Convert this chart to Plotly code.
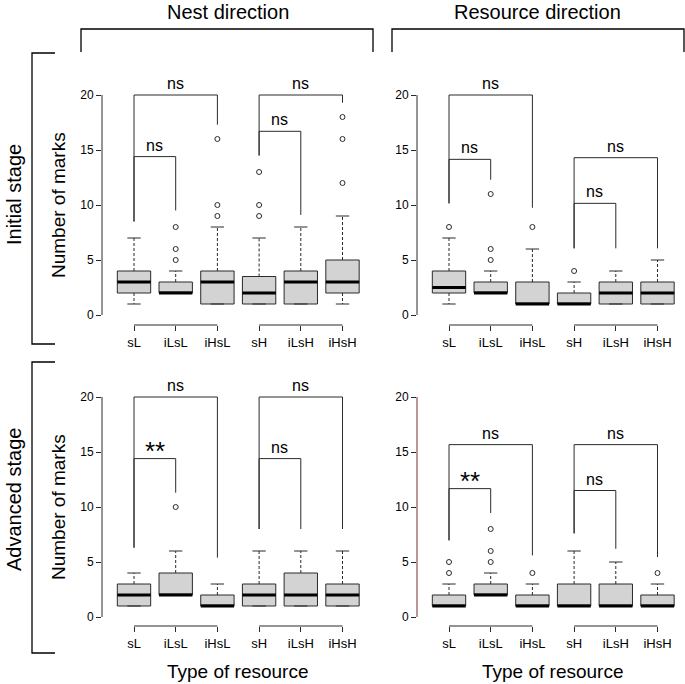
import plotly.graph_objects as go

# ---------------- data ----------------
categories = ["sL", "iLsL", "iHsL", "sH", "iLsH", "iHsH"]
positions = [1, 2, 3, 4, 5, 6]

# Nest direction, initial stage
ni_lower = [1, 2, 1, 1, 1, 1]
ni_q1 = [2, 2, 1, 1, 1, 2]
ni_median = [3, 2, 3, 2, 3, 3]
ni_q3 = [4, 3, 4, 3.5, 4, 5]
ni_upper = [7, 4, 8, 7, 8, 9]
ni_outliers = [[], [5, 6, 8], [9, 10, 16], [9, 10, 13], [], [12, 16, 18]]

# Resource direction, initial stage
ri_lower = [1, 2, 1, 1, 1, 1]
ri_q1 = [2, 2, 1, 1, 1, 1]
ri_median = [2.5, 2, 1, 1, 2, 2]
ri_q3 = [4, 3, 3, 2, 3, 3]
ri_upper = [7, 4, 6, 3, 4, 5]
ri_outliers = [[8], [5, 6, 11], [8], [4], [], []]

# Nest direction, advanced stage
na_lower = [1, 2, 1, 1, 1, 1]
na_q1 = [1, 2, 1, 1, 1, 1]
na_median = [2, 2, 1, 2, 2, 2]
na_q3 = [3, 4, 2, 3, 4, 3]
na_upper = [4, 6, 3, 6, 6, 6]
na_outliers = [[], [10], [], [], [], []]

# Resource direction, advanced stage
ra_lower = [1, 2, 1, 1, 1, 1]
ra_q1 = [1, 2, 1, 1, 1, 1]
ra_median = [1, 2, 1, 1, 1, 1]
ra_q3 = [2, 3, 2, 3, 3, 2]
ra_upper = [3, 4, 3, 6, 5, 3]
ra_outliers = [[4, 5], [5, 6, 8], [4], [], [], [4]]

# significance brackets: (left cat, right cat, top, left leg end, right leg end, label)
ni_brackets = [(1, 3, 20, 8.5, 17.3, "ns"), (1, 2, 14.4, 8.5, 9.5, "ns"),
               (4, 6, 20, 14.5, 19.3, "ns"), (4, 5, 16.7, 14.5, 9.1, "ns")]
ri_brackets = [(1, 3, 20, 10.15, 9.75, "ns"), (1, 2, 14.15, 10.15, 12.3, "ns"),
               (4, 6, 14.3, 6.06, 6.06, "ns"), (4, 5, 10.15, 6.06, 6.06, "ns")]
na_brackets = [(1, 3, 20, 6.3, 5.4, "ns"), (1, 2, 14.4, 6.3, 11.3, "**"),
               (4, 6, 20, 8.0, 8.0, "ns"), (4, 5, 14.4, 8.0, 8.0, "ns")]
ra_brackets = [(1, 3, 15.67, 6.97, 5.6, "ns"), (1, 2, 11.67, 6.97, 9.45, "**"),
               (4, 6, 15.67, 7.6, 5.45, "ns"), (4, 5, 11.5, 7.6, 6.2, "ns")]

y_ticks = [0, 5, 10, 15, 20]

col_titles = ["Nest direction", "Resource direction"]
row_titles = ["Initial stage", "Advanced stage"]
y_title = "Number of marks"
x_title = "Type of resource"

# ---------------- layout helpers ----------------
W, H = 685, 684
FONT = "Liberation Sans, Arial, Helvetica, sans-serif"
LINE = "#2a2a2a"


def px(x):
    return x / W


def py(y):
    return 1 - y / H


panels = [
    dict(ax="", lower=ni_lower, q1=ni_q1, med=ni_median, q3=ni_q3, upper=ni_upper,
         out=ni_outliers, br=ni_brackets, xdom=(102, 374), ydom=(60, 325),
         xr=(1 + (102 - 134) / 41.7, 1 + (374 - 134) / 41.7), yr=((315 - 325) / 11, (315 - 60) / 11),
         axcolor=LINE),
    dict(ax="2", lower=ri_lower, q1=ri_q1, med=ri_median, q3=ri_q3, upper=ri_upper,
         out=ri_outliers, br=ri_brackets, xdom=(417, 685), ydom=(60, 325),
         xr=(1 + (417 - 449) / 41.7, 1 + (685 - 449) / 41.7), yr=((315 - 325) / 11, (315 - 60) / 11),
         axcolor=LINE),
    dict(ax="3", lower=na_lower, q1=na_q1, med=na_median, q3=na_q3, upper=na_upper,
         out=na_outliers, br=na_brackets, xdom=(102, 374), ydom=(362, 626),
         xr=(1 + (102 - 134) / 41.7, 1 + (374 - 134) / 41.7), yr=((617 - 626) / 11, (617 - 362) / 11),
         axcolor=LINE),
    dict(ax="4", lower=ra_lower, q1=ra_q1, med=ra_median, q3=ra_q3, upper=ra_upper,
         out=ra_outliers, br=ra_brackets, xdom=(417, 685), ydom=(362, 626),
         xr=(1 + (417 - 449) / 41.7, 1 + (685 - 449) / 41.7), yr=((617 - 626) / 11, (617 - 362) / 11),
         axcolor="#7a2a2a"),
]

fig = go.Figure()
shapes = []
annotations = []
BW = 0.4   # half box width
CW = 0.16  # half cap width

for p in panels:
    xa, ya = "x" + p["ax"], "y" + p["ax"]
    # boxes
    fig.add_trace(go.Box(x=positions, q1=p["q1"], median=p["med"], q3=p["q3"],
                         lowerfence=p["q1"], upperfence=p["q3"], width=2 * BW,
                         fillcolor="#d3d3d3", line=dict(color=LINE, width=1),
                         boxpoints=False, whiskerwidth=0, hoverinfo="skip",
                         xaxis=xa, yaxis=ya, showlegend=False))
    # whiskers (dashed)
    wx, wy = [], []
    for i, pos in enumerate(positions):
        wx += [pos, pos, None, pos, pos, None]
        wy += [p["q3"][i], p["upper"][i], None, p["q1"][i], p["lower"][i], None]
    fig.add_trace(go.Scatter(x=wx, y=wy, mode="lines", xaxis=xa, yaxis=ya,
                             line=dict(color=LINE, width=1, dash="3px,2px"),
                             hoverinfo="skip", showlegend=False))
    # caps
    cx, cy = [], []
    for i, pos in enumerate(positions):
        cx += [pos - CW, pos + CW, None, pos - CW, pos + CW, None]
        cy += [p["upper"][i], p["upper"][i], None, p["lower"][i], p["lower"][i], None]
    fig.add_trace(go.Scatter(x=cx, y=cy, mode="lines", xaxis=xa, yaxis=ya,
                             line=dict(color=LINE, width=1),
                             hoverinfo="skip", showlegend=False))
    # medians (thick)
    mx, my = [], []
    for i, pos in enumerate(positions):
        mx += [pos - BW, pos + BW, None]
        my += [p["med"][i], p["med"][i], None]
    fig.add_trace(go.Scatter(x=mx, y=my, mode="lines", xaxis=xa, yaxis=ya,
                             line=dict(color="#000000", width=3),
                             hoverinfo="skip", showlegend=False))
    # outliers
    ox, oy = [], []
    for i, pos in enumerate(positions):
        for v in p["out"][i]:
            ox.append(pos)
            oy.append(v)
    fig.add_trace(go.Scatter(x=ox, y=oy, mode="markers", xaxis=xa, yaxis=ya,
                             marker=dict(symbol="circle-open", size=5,
                                         line=dict(color=LINE, width=1), color=LINE),
                             hoverinfo="skip", showlegend=False))
    # brackets
    bx, by = [], []
    for (x0, x1, top, l0, l1, lab) in p["br"]:
        bx += [x0, x0, x1, x1, None]
        by += [l0, top, top, l1, None]
        star = lab.startswith("*")
        annotations.append(dict(x=(x0 + x1) / 2, y=top, xref=xa, yref=ya, text=lab,
                                showarrow=False, yanchor="bottom",
                                yshift=-9 if star else 1,
                                font=dict(family=FONT, size=26 if star else 16,
                                          color="#000000"),
                                ))
    fig.add_trace(go.Scatter(x=bx, y=by, mode="lines", xaxis=xa, yaxis=ya,
                             line=dict(color=LINE, width=1),
                             hoverinfo="skip", showlegend=False))
    # y-axis line (only over tick range)
    shapes.append(dict(type="line", xref=xa + " domain", yref=ya, x0=0, x1=0,
                       y0=y_ticks[0], y1=y_ticks[-1], line=dict(color=p["axcolor"], width=1)))
    # x-axis line segments (two groups)
    for (a, b) in [(1, 3), (4, 6)]:
        shapes.append(dict(type="line", xref=xa, yref=ya + " domain", x0=a, x1=b,
                           y0=0, y1=0, line=dict(color=LINE, width=1)))

    axis_common = dict(showgrid=False, zeroline=False, showline=False,
                       ticks="outside", ticklen=5, tickcolor=LINE, tickwidth=1)
    fig.layout["xaxis" + p["ax"]] = dict(domain=[px(p["xdom"][0]), px(p["xdom"][1])],
                                         range=list(p["xr"]), anchor=ya,
                                         tickvals=positions, ticktext=categories,
                                         tickfont=dict(family=FONT, size=13, color="#000"),
                                         **axis_common)
    fig.layout["yaxis" + p["ax"]] = dict(domain=[py(p["ydom"][1]), py(p["ydom"][0])],
                                         range=list(p["yr"]), anchor=xa,
                                         tickvals=y_ticks,
                                         tickfont=dict(family=FONT, size=12, color="#000"),
                                         **axis_common)

# outer brackets (paper coordinates)
def path(pts):
    return "M " + " L ".join(f"{px(x):.5f},{py(y):.5f}" for x, y in pts)

for pts in [[(81, 52), (81, 29), (373, 29), (373, 52)],
            [(392, 52), (392, 29), (684, 29), (684, 52)],
            [(55, 53), (32, 53), (32, 344), (55, 344)],
            [(55, 362), (32, 362), (32, 653), (55, 653)]]:
    shapes.append(dict(type="path", xref="paper", yref="paper", path=path(pts),
                       line=dict(color="#000000", width=1.3)))

# titles
for t, xc in zip(col_titles, [228, 537]):
    annotations.append(dict(x=px(xc), y=py(12), xref="paper", yref="paper", text=t,
                            showarrow=False, xanchor="center", yanchor="middle",
                            font=dict(family=FONT, size=20, color="#000")))
for t, yc in zip(row_titles, [195, 500]):
    annotations.append(dict(x=px(14), y=py(yc), xref="paper", yref="paper", text=t,
                            showarrow=False, textangle=-90, xanchor="center", yanchor="middle",
                            font=dict(family=FONT, size=20, color="#000")))
for yc in [205, 507]:
    annotations.append(dict(x=px(58), y=py(yc), xref="paper", yref="paper", text=y_title,
                            showarrow=False, textangle=-90, xanchor="center", yanchor="middle",
                            font=dict(family=FONT, size=19, color="#000")))
for xc in [238, 553]:
    annotations.append(dict(x=px(xc), y=py(671), xref="paper", yref="paper", text=x_title,
                            showarrow=False, xanchor="center", yanchor="middle",
                            font=dict(family=FONT, size=19, color="#000")))

fig.update_layout(width=W, height=H, autosize=False,
                  margin=dict(l=0, r=0, t=0, b=0),
                  paper_bgcolor="white", plot_bgcolor="white",
                  shapes=shapes, annotations=annotations, showlegend=False,
                  boxmode="overlay")

fig.write_html("out.html", config={"responsive": False, "displayModeBar": False},
               post_script="document.body.style.margin='0';document.body.style.padding='0';")
